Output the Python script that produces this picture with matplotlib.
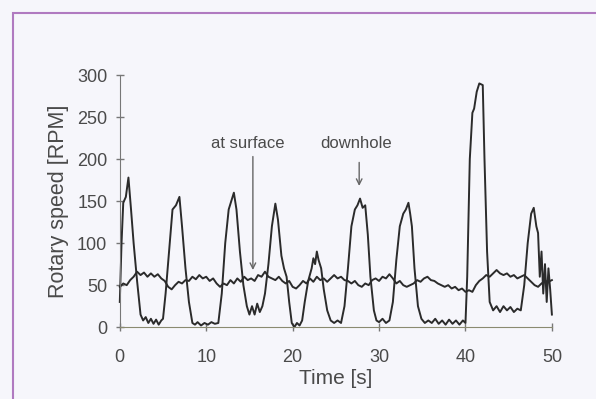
import matplotlib.pyplot as plt
from matplotlib.patches import Rectangle

# downhole rotary speed (time [s], rpm)
dh_t = [0.0, 0.2, 0.4, 0.7, 1.0, 1.3, 1.6, 2.0, 2.4, 2.7, 3.0, 3.3, 3.6, 3.9, 4.2, 4.5, 4.8, 5.0,
        5.3, 5.7, 6.1, 6.5, 6.9, 7.2, 7.6, 8.0, 8.4, 8.7, 9.0, 9.4, 9.8, 10.2, 10.6, 11.0, 11.4,
        11.8, 12.2, 12.6, 12.9, 13.2, 13.5, 13.9, 14.3, 14.7, 15.0, 15.3, 15.6, 15.9, 16.2, 16.5,
        16.8, 17.2, 17.6, 18.0, 18.3, 18.7, 19.0, 19.3, 19.6, 19.9, 20.2, 20.5, 20.8, 21.1, 21.4,
        21.8, 22.2, 22.4, 22.6, 22.8, 23.0, 23.3, 23.6, 24.0, 24.4, 24.8, 25.2, 25.6, 26.0, 26.4,
        26.8, 27.2, 27.5, 27.8, 28.1, 28.4, 28.7, 29.0, 29.4, 29.7, 30.0, 30.4, 30.8, 31.2, 31.6,
        32.0, 32.4, 32.8, 33.1, 33.4, 33.6, 33.8, 34.1, 34.5, 34.9, 35.3, 35.7, 36.1, 36.5, 36.9,
        37.3, 37.7, 38.1, 38.5, 38.9, 39.3, 39.7, 40.0, 40.2, 40.5, 40.8, 41.0, 41.3, 41.6, 42.0,
        42.2, 42.5, 42.8, 43.2, 43.6, 44.0, 44.4, 44.8, 45.2, 45.6, 46.0, 46.4, 46.8, 47.2, 47.6,
        47.9, 48.2, 48.4, 48.6, 48.8, 49.0, 49.2, 49.4, 49.6, 49.8, 50.0]
dh_v = [30, 100, 148, 155, 178, 140, 100, 55, 15, 8, 12, 5, 10, 4, 9, 3, 8, 10,
        40, 90, 140, 145, 155, 120, 70, 30, 5, 3, 6, 2, 5, 3, 6, 4, 5,
        40, 100, 140, 150, 160, 140, 90, 50, 25, 15, 25, 15, 28, 18, 25,
        40, 75, 120, 147, 128, 85, 70, 60, 30, 5, 0, 5, 2, 8, 30,
        55, 70, 82, 75, 90, 80, 70, 45, 20, 8, 5, 8, 5, 25, 70,
        120, 140, 145, 153, 142, 145, 110, 60, 20, 8, 6, 10, 5, 8, 30,
        80, 120, 135, 140, 148, 135, 120, 70, 25, 10, 5, 8, 5, 10, 4,
        8, 3, 9, 4, 8, 3, 8, 5, 60, 200, 255, 260, 280, 290, 288,
        200, 90, 30, 20, 25, 18, 25, 20, 24, 18, 22, 20, 50, 100, 135,
        142, 120, 112, 60, 90, 40, 75, 30, 70, 45, 15]

# rotary speed at surface
sf_t = [0.0, 0.4, 0.8, 1.2, 1.6, 2.0, 2.4, 2.8, 3.2, 3.6, 4.0, 4.4, 4.8, 5.2, 5.6, 6.0, 6.4, 6.8,
        7.2, 7.6, 8.0, 8.4, 8.8, 9.2, 9.6, 10.0, 10.4, 10.8, 11.2, 11.6, 12.0, 12.4, 12.8, 13.2,
        13.6, 14.0, 14.4, 14.8, 15.2, 15.6, 16.0, 16.4, 16.8, 17.2, 17.6, 18.0, 18.4, 18.8, 19.2,
        19.6, 20.0, 20.4, 20.8, 21.2, 21.6, 22.0, 22.4, 22.8, 23.2, 23.6, 24.0, 24.4, 24.8, 25.2,
        25.6, 26.0, 26.4, 26.8, 27.2, 27.6, 28.0, 28.4, 28.8, 29.2, 29.6, 30.0, 30.4, 30.8, 31.2,
        31.6, 32.0, 32.4, 32.8, 33.2, 33.6, 34.0, 34.4, 34.8, 35.2, 35.6, 36.0, 36.4, 36.8, 37.2,
        37.6, 38.0, 38.4, 38.8, 39.2, 39.6, 40.0, 40.4, 40.8, 41.2, 41.6, 42.0, 42.4, 42.8, 43.2,
        43.6, 44.0, 44.4, 44.8, 45.2, 45.6, 46.0, 46.4, 46.8, 47.2, 47.6, 48.0, 48.4, 48.8, 49.2,
        49.6, 50.0]
sf_v = [48, 52, 50, 56, 60, 66, 62, 65, 60, 64, 60, 63, 58, 55, 48, 45, 50, 54,
        52, 56, 55, 60, 57, 62, 58, 60, 55, 58, 52, 48, 52, 50, 56, 52,
        58, 54, 60, 56, 58, 55, 62, 60, 66, 60, 58, 56, 60, 55, 52,
        55, 48, 46, 50, 55, 52, 58, 54, 60, 56, 58, 54, 58, 62, 58,
        60, 56, 55, 52, 55, 50, 48, 52, 50, 56, 58, 55, 60, 58, 63,
        58, 52, 55, 50, 48, 50, 52, 56, 54, 58, 60, 56, 55, 52, 50,
        48, 50, 46, 48, 44, 46, 42, 44, 42, 50, 55, 58, 62, 60, 64,
        68, 64, 62, 64, 60, 62, 58, 60, 62, 58, 54, 50, 48, 52, 55,
        54, 56]

x_ticks = [0, 10, 20, 30, 40, 50]
y_ticks = [0, 50, 100, 150, 200, 250, 300]

txt = '#4a4a4a'
plt.rcParams['font.family'] = ['Liberation Sans', 'DejaVu Sans']

fig = plt.figure(figsize=(5.96, 3.99), dpi=100, facecolor='#f6f6fb')
ax = fig.add_axes([0.201, 0.180, 0.725, 0.632])
ax.set_facecolor('none')

ax.plot(sf_t, sf_v, color='#2b2b2b', lw=1.4, clip_on=False)
ax.plot(dh_t, dh_v, color='#2b2b2b', lw=1.4, clip_on=False)

ax.set_xlim(0, 50)
ax.set_ylim(0, 300)
ax.set_xticks(x_ticks)
ax.set_yticks(y_ticks)
for s in ['top', 'right']:
    ax.spines[s].set_visible(False)
ax.spines['left'].set_color('#777777')
ax.spines['bottom'].set_color('#8a8a70')
ax.tick_params(direction='inout', length=6, width=1, colors='#777777',
               labelcolor=txt, labelsize=13)
ax.tick_params(axis='y', pad=6)
ax.tick_params(axis='x', pad=13)
ax.set_xlabel('Time [s]', fontsize=15, color=txt, labelpad=2)
ax.set_ylabel('Rotary speed [RPM]', fontsize=15.5, color=txt, labelpad=6)

ax.text(14.8, 218, 'at surface', ha='center', va='center', fontsize=12, color=txt)
ax.annotate('', xy=(15.4, 68), xytext=(15.4, 203),
            arrowprops=dict(arrowstyle='->', color='#666666', lw=1, shrinkA=0, shrinkB=0))
ax.text(27.3, 218, 'downhole', ha='center', va='center', fontsize=12, color=txt)
ax.annotate('', xy=(27.7, 168), xytext=(27.7, 196),
            arrowprops=dict(arrowstyle='->', color='#666666', lw=1, shrinkA=0, shrinkB=0))

# scanned page frame
fig.add_artist(Rectangle((13 / 596, -0.05), 1.0, 1 - 13 / 399 + 0.05, transform=fig.transFigure,
                         fill=False, edgecolor='#b07ac0', lw=1.5))

fig.savefig('out.png', dpi=100, facecolor=fig.get_facecolor())
